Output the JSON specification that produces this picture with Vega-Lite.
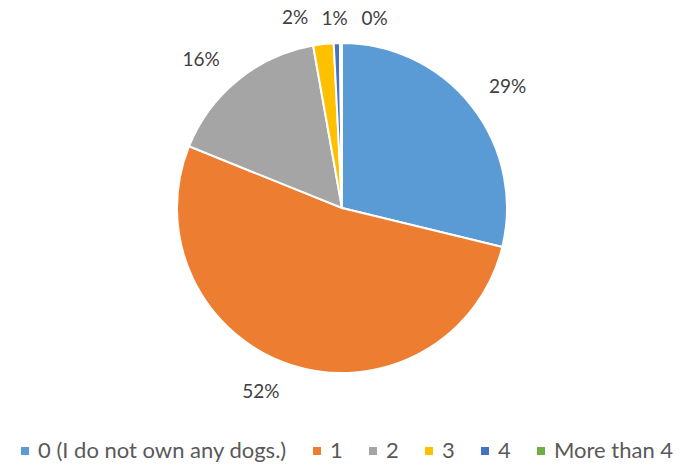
{
  "$schema": "https://vega.github.io/schema/vega-lite/v6.json",
  "width": 684,
  "height": 416,
  "autosize": {"type": "none"},
  "padding": {"left": 0, "top": 0, "right": 8, "bottom": 50},
  "background": "white",
  "config": {"view": {"stroke": null}, "font": "Lato"},
  "data": {"values": [
    {"cat": "0 (I do not own any dogs.)", "order": 1, "value": 28.8, "label": "29%"},
    {"cat": "1", "order": 2, "value": 52.3, "label": "52%"},
    {"cat": "2", "order": 3, "value": 16.1, "label": "16%"},
    {"cat": "3", "order": 4, "value": 2.0, "label": "2%"},
    {"cat": "4", "order": 5, "value": 0.6, "label": "1%"},
    {"cat": "More than 4", "order": 6, "value": 0.2, "label": "0%"}
  ]},
  "encoding": {
    "theta": {"field": "value", "type": "quantitative", "stack": true},
    "order": {"field": "order", "type": "quantitative"}
  },
  "layer": [
    {
      "mark": {"type": "arc", "outerRadius": 165, "stroke": "white", "strokeWidth": 2},
      "encoding": {
        "color": {
          "field": "cat", "type": "nominal",
          "sort": ["0 (I do not own any dogs.)", "1", "2", "3", "4", "More than 4"],
          "scale": {"domain": ["0 (I do not own any dogs.)", "1", "2", "3", "4", "More than 4"],
                    "range": ["#5B9BD5", "#ED7D31", "#A5A5A5", "#FFC000", "#4472C4", "#70AD47"]},
          "legend": {
            "title": null, "orient": "none", "direction": "horizontal",
            "legendX": 14, "legendY": 440,
            "symbolType": "square", "symbolSize": 64, "symbolStrokeWidth": 0,
            "labelFontSize": 22, "labelColor": "#595959", "labelFont": "Lato", "labelLimit": 500,
            "columnPadding": 19, "symbolOffset": 0, "labelOffset": 2
          }
        }
      }
    },
    {
      "mark": {"type": "text", "radius": 203, "fontSize": 19, "color": "#404040", "font": "Lato", "dx": 6, "dy": 4},
      "encoding": {"text": {"condition": {"test": "datum.order == 1", "field": "label"}, "value": ""}}
    },
    {
      "mark": {"type": "text", "radius": 203, "fontSize": 19, "color": "#404040", "font": "Lato", "dx": -19, "dy": -9},
      "encoding": {"text": {"condition": {"test": "datum.order == 2", "field": "label"}, "value": ""}}
    },
    {
      "mark": {"type": "text", "radius": 203, "fontSize": 19, "color": "#404040", "font": "Lato", "dx": -13, "dy": 10},
      "encoding": {"text": {"condition": {"test": "datum.order == 3", "field": "label"}, "value": ""}}
    },
    {
      "mark": {"type": "text", "radius": 203, "fontSize": 19, "color": "#404040", "font": "Lato", "dx": -24, "dy": 12},
      "encoding": {"text": {"condition": {"test": "datum.order == 4", "field": "label"}, "value": ""}}
    },
    {
      "mark": {"type": "text", "radius": 203, "fontSize": 19, "color": "#404040", "font": "Lato", "dx": -1, "dy": 14},
      "encoding": {"text": {"condition": {"test": "datum.order == 5", "field": "label"}, "value": ""}}
    },
    {
      "mark": {"type": "text", "radius": 203, "fontSize": 19, "color": "#404040", "font": "Lato", "dx": 34, "dy": 14},
      "encoding": {"text": {"condition": {"test": "datum.order == 6", "field": "label"}, "value": ""}}
    }
  ]
}
